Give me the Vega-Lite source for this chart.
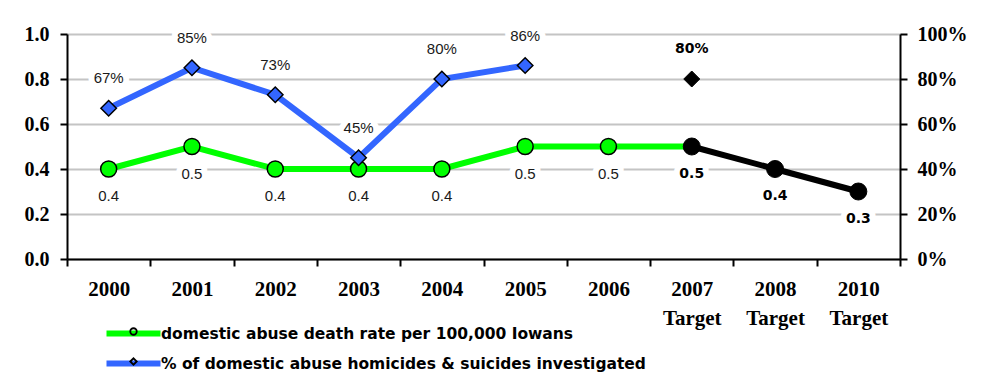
{
  "$schema": "https://vega.github.io/schema/vega-lite/v6.json",
  "width": 833,
  "height": 225,
  "autosize": {"type": "none"},
  "padding": {"left": 67, "top": 34, "right": 91, "bottom": 130},
  "background": "white",
  "config": {"view": {"stroke": null}},
  "data": {
    "values": [
      {"year": "2000", "rate": 0.4, "pct": 0.67, "kind": "actual"},
      {"year": "2001", "rate": 0.5, "pct": 0.85, "kind": "actual"},
      {"year": "2002", "rate": 0.4, "pct": 0.73, "kind": "actual"},
      {"year": "2003", "rate": 0.4, "pct": 0.45, "kind": "actual"},
      {"year": "2004", "rate": 0.4, "pct": 0.80, "kind": "actual"},
      {"year": "2005", "rate": 0.5, "pct": 0.86, "kind": "actual"},
      {"year": "2006", "rate": 0.5, "pct": null, "kind": "actual"},
      {"year": "2007 Target", "rate": 0.5, "pct": 0.80, "kind": "target"},
      {"year": "2008 Target", "rate": 0.4, "pct": null, "kind": "target"},
      {"year": "2010 Target", "rate": 0.3, "pct": null, "kind": "target"}
    ]
  },
  "encoding": {
    "x": {
      "field": "year",
      "type": "ordinal",
      "bandPosition": 0.5,
      "scale": {
        "type": "band",
        "paddingInner": 0,
        "paddingOuter": 0,
        "domain": ["2000", "2001", "2002", "2003", "2004", "2005", "2006", "2007 Target", "2008 Target", "2010 Target"]
      },
      "axis": {
        "title": null,
        "labelAngle": 0,
        "labelExpr": "split(datum.label, ' ')",
        "labelFont": "Liberation Serif",
        "labelFontWeight": "bold",
        "labelFontSize": 21,
        "labelColor": "black",
        "labelLineHeight": 29,
        "labelBaseline": "top",
        "labelPadding": 12,
        "tickBand": "extent",
        "tickSize": 7,
        "tickWidth": 2,
        "tickColor": "black",
        "domainColor": "black",
        "domainWidth": 2,
        "grid": false
      }
    }
  },
  "layer": [
    {
      "encoding": {
        "y": {
          "field": "rate",
          "type": "quantitative",
          "scale": {"domain": [0, 1], "nice": false, "zero": true},
          "axis": {
            "orient": "left",
            "title": null,
            "values": [0, 0.2, 0.4, 0.6, 0.8, 1.0],
            "format": ".1f",
            "grid": true,
            "gridColor": "#c4c4c4",
            "gridWidth": 2,
            "domainColor": "black",
            "domainWidth": 2,
            "tickColor": "black",
            "tickWidth": 2,
            "tickSize": 7,
            "labelFont": "Liberation Serif",
            "labelFontWeight": "bold",
            "labelFontSize": 20,
            "labelColor": "black",
            "labelPadding": 11
          }
        }
      },
      "layer": [
        {
          "transform": [{"filter": "datum.kind == 'actual'"}],
          "mark": {"type": "text", "dy": 27, "font": "Liberation Sans", "fontSize": 15, "stroke": "white", "strokeWidth": 12, "fill": "white", "strokeJoin": "round"},
          "encoding": {"text": {"field": "rate", "type": "quantitative", "format": ".1f"}}
        },
        {
          "transform": [{"filter": "datum.kind == 'target'"}],
          "mark": {"type": "text", "dy": 27, "font": "DejaVu Sans", "fontWeight": "bold", "fontSize": 14, "stroke": "white", "strokeWidth": 12, "fill": "white", "strokeJoin": "round"},
          "encoding": {"text": {"field": "rate", "type": "quantitative", "format": ".1f"}}
        },
        {
          "transform": [{"filter": "datum.kind == 'actual' || datum.year == '2007 Target'"}],
          "mark": {"type": "line", "strokeWidth": 6},
          "encoding": {
            "color": {
              "datum": "domestic abuse death rate per 100,000 Iowans",
              "scale": {
                "domain": ["domestic abuse death rate per 100,000 Iowans", "% of domestic abuse homicides & suicides investigated"],
                "range": ["#00FF00", "#3366FF"]
              },
              "legend": {
                "orient": "none",
                "legendX": 50,
                "legendY": 283,
                "title": null,
                "padding": 0,
                "symbolType": "M-2,0H2",
                "symbolSize": 729,
                "symbolStrokeWidth": 6,
                "labelFont": "DejaVu Sans",
                "labelFontWeight": "bold",
                "labelFontSize": 15.5,
                "labelColor": "black",
                "labelLimit": 700,
                "labelOffset": 11,
                "rowPadding": 1
              }
            }
          }
        },
        {
          "transform": [{"filter": "datum.kind == 'target'"}],
          "mark": {"type": "line", "strokeWidth": 6, "color": "black"},
          "encoding": {}
        },
        {
          "transform": [{"filter": "datum.kind == 'actual'"}],
          "mark": {"type": "point", "shape": "circle", "filled": true, "fill": "#00FF00", "strokeWidth": 0, "size": 256, "opacity": 1},
          "encoding": {}
        },
        {
          "transform": [{"filter": "datum.kind == 'actual'"}],
          "mark": {"type": "point", "filled": false, "color": "black", "strokeWidth": 1.5, "size": 256, "opacity": 1},
          "encoding": {
            "shape": {
              "datum": "rate",
              "scale": {
                "domain": ["rate", "pct"],
                "range": ["circle", "diamond"]
              },
              "legend": {
                "orient": "none",
                "legendX": 59,
                "legendY": 290,
                "title": null,
                "padding": 0,
                "symbolSize": 42,
                "symbolStrokeWidth": 1.8,
                "labelExpr": "'x'",
                "labelOpacity": 0,
                "labelFontSize": 15,
                "rowPadding": 14
              }
            }
          }
        },
        {
          "transform": [{"filter": "datum.kind == 'target'"}],
          "mark": {"type": "point", "shape": "circle", "filled": true, "fill": "black", "stroke": "black", "strokeWidth": 1, "size": 289, "opacity": 1},
          "encoding": {}
        },
        {
          "transform": [{"filter": "datum.kind == 'actual'"}],
          "mark": {"type": "text", "dy": 27, "font": "Liberation Sans", "fontSize": 15, "fill": "#1a1a1a"},
          "encoding": {"text": {"field": "rate", "type": "quantitative", "format": ".1f"}}
        },
        {
          "transform": [{"filter": "datum.kind == 'target'"}],
          "mark": {"type": "text", "dy": 27, "font": "DejaVu Sans", "fontWeight": "bold", "fontSize": 14, "fill": "black"},
          "encoding": {"text": {"field": "rate", "type": "quantitative", "format": ".1f"}}
        }
      ]
    },
    {
      "transform": [{"filter": "isValid(datum.pct)"}],
      "encoding": {
        "y": {
          "field": "pct",
          "type": "quantitative",
          "scale": {"domain": [0, 1], "nice": false, "zero": true},
          "axis": {
            "orient": "right",
            "title": null,
            "values": [0, 0.2, 0.4, 0.6, 0.8, 1.0],
            "format": ".0%",
            "grid": false,
            "domainColor": "black",
            "domainWidth": 2,
            "tickColor": "black",
            "tickWidth": 2,
            "tickSize": 7,
            "labelFont": "Liberation Serif",
            "labelFontWeight": "bold",
            "labelFontSize": 20,
            "labelColor": "black",
            "labelPadding": 10
          }
        }
      },
      "layer": [
        {
          "transform": [{"filter": "datum.kind == 'actual'"}],
          "mark": {"type": "text", "dy": -30, "font": "Liberation Sans", "fontSize": 15, "stroke": "white", "strokeWidth": 12, "fill": "white", "strokeJoin": "round"},
          "encoding": {"text": {"field": "pct", "type": "quantitative", "format": ".0%"}}
        },
        {
          "transform": [{"filter": "datum.kind == 'target'"}],
          "mark": {"type": "text", "dy": -30, "font": "DejaVu Sans", "fontWeight": "bold", "fontSize": 14, "stroke": "white", "strokeWidth": 12, "fill": "white", "strokeJoin": "round"},
          "encoding": {"text": {"field": "pct", "type": "quantitative", "format": ".0%"}}
        },
        {
          "transform": [{"filter": "datum.kind == 'actual'"}],
          "mark": {"type": "line", "strokeWidth": 6},
          "encoding": {
            "color": {"datum": "% of domestic abuse homicides & suicides investigated"}
          }
        },
        {
          "transform": [{"filter": "datum.kind == 'actual'"}],
          "mark": {"type": "point", "shape": "diamond", "filled": true, "fill": "#3366FF", "strokeWidth": 0, "size": 240, "opacity": 1},
          "encoding": {}
        },
        {
          "transform": [{"filter": "datum.kind == 'actual'"}],
          "mark": {"type": "point", "filled": false, "color": "black", "strokeWidth": 1.5, "size": 240, "opacity": 1},
          "encoding": {
            "shape": {"datum": "pct"}
          }
        },
        {
          "transform": [{"filter": "datum.kind == 'target'"}],
          "mark": {"type": "point", "shape": "diamond", "filled": true, "fill": "black", "stroke": "black", "strokeWidth": 1, "size": 256, "opacity": 1},
          "encoding": {}
        },
        {
          "transform": [{"filter": "datum.kind == 'actual'"}],
          "mark": {"type": "text", "dy": -30, "font": "Liberation Sans", "fontSize": 15, "fill": "#1a1a1a"},
          "encoding": {"text": {"field": "pct", "type": "quantitative", "format": ".0%"}}
        },
        {
          "transform": [{"filter": "datum.kind == 'target'"}],
          "mark": {"type": "text", "dy": -30, "font": "DejaVu Sans", "fontWeight": "bold", "fontSize": 14, "fill": "black"},
          "encoding": {"text": {"field": "pct", "type": "quantitative", "format": ".0%"}}
        }
      ]
    }
  ],
  "resolve": {"scale": {"y": "independent"}}
}
